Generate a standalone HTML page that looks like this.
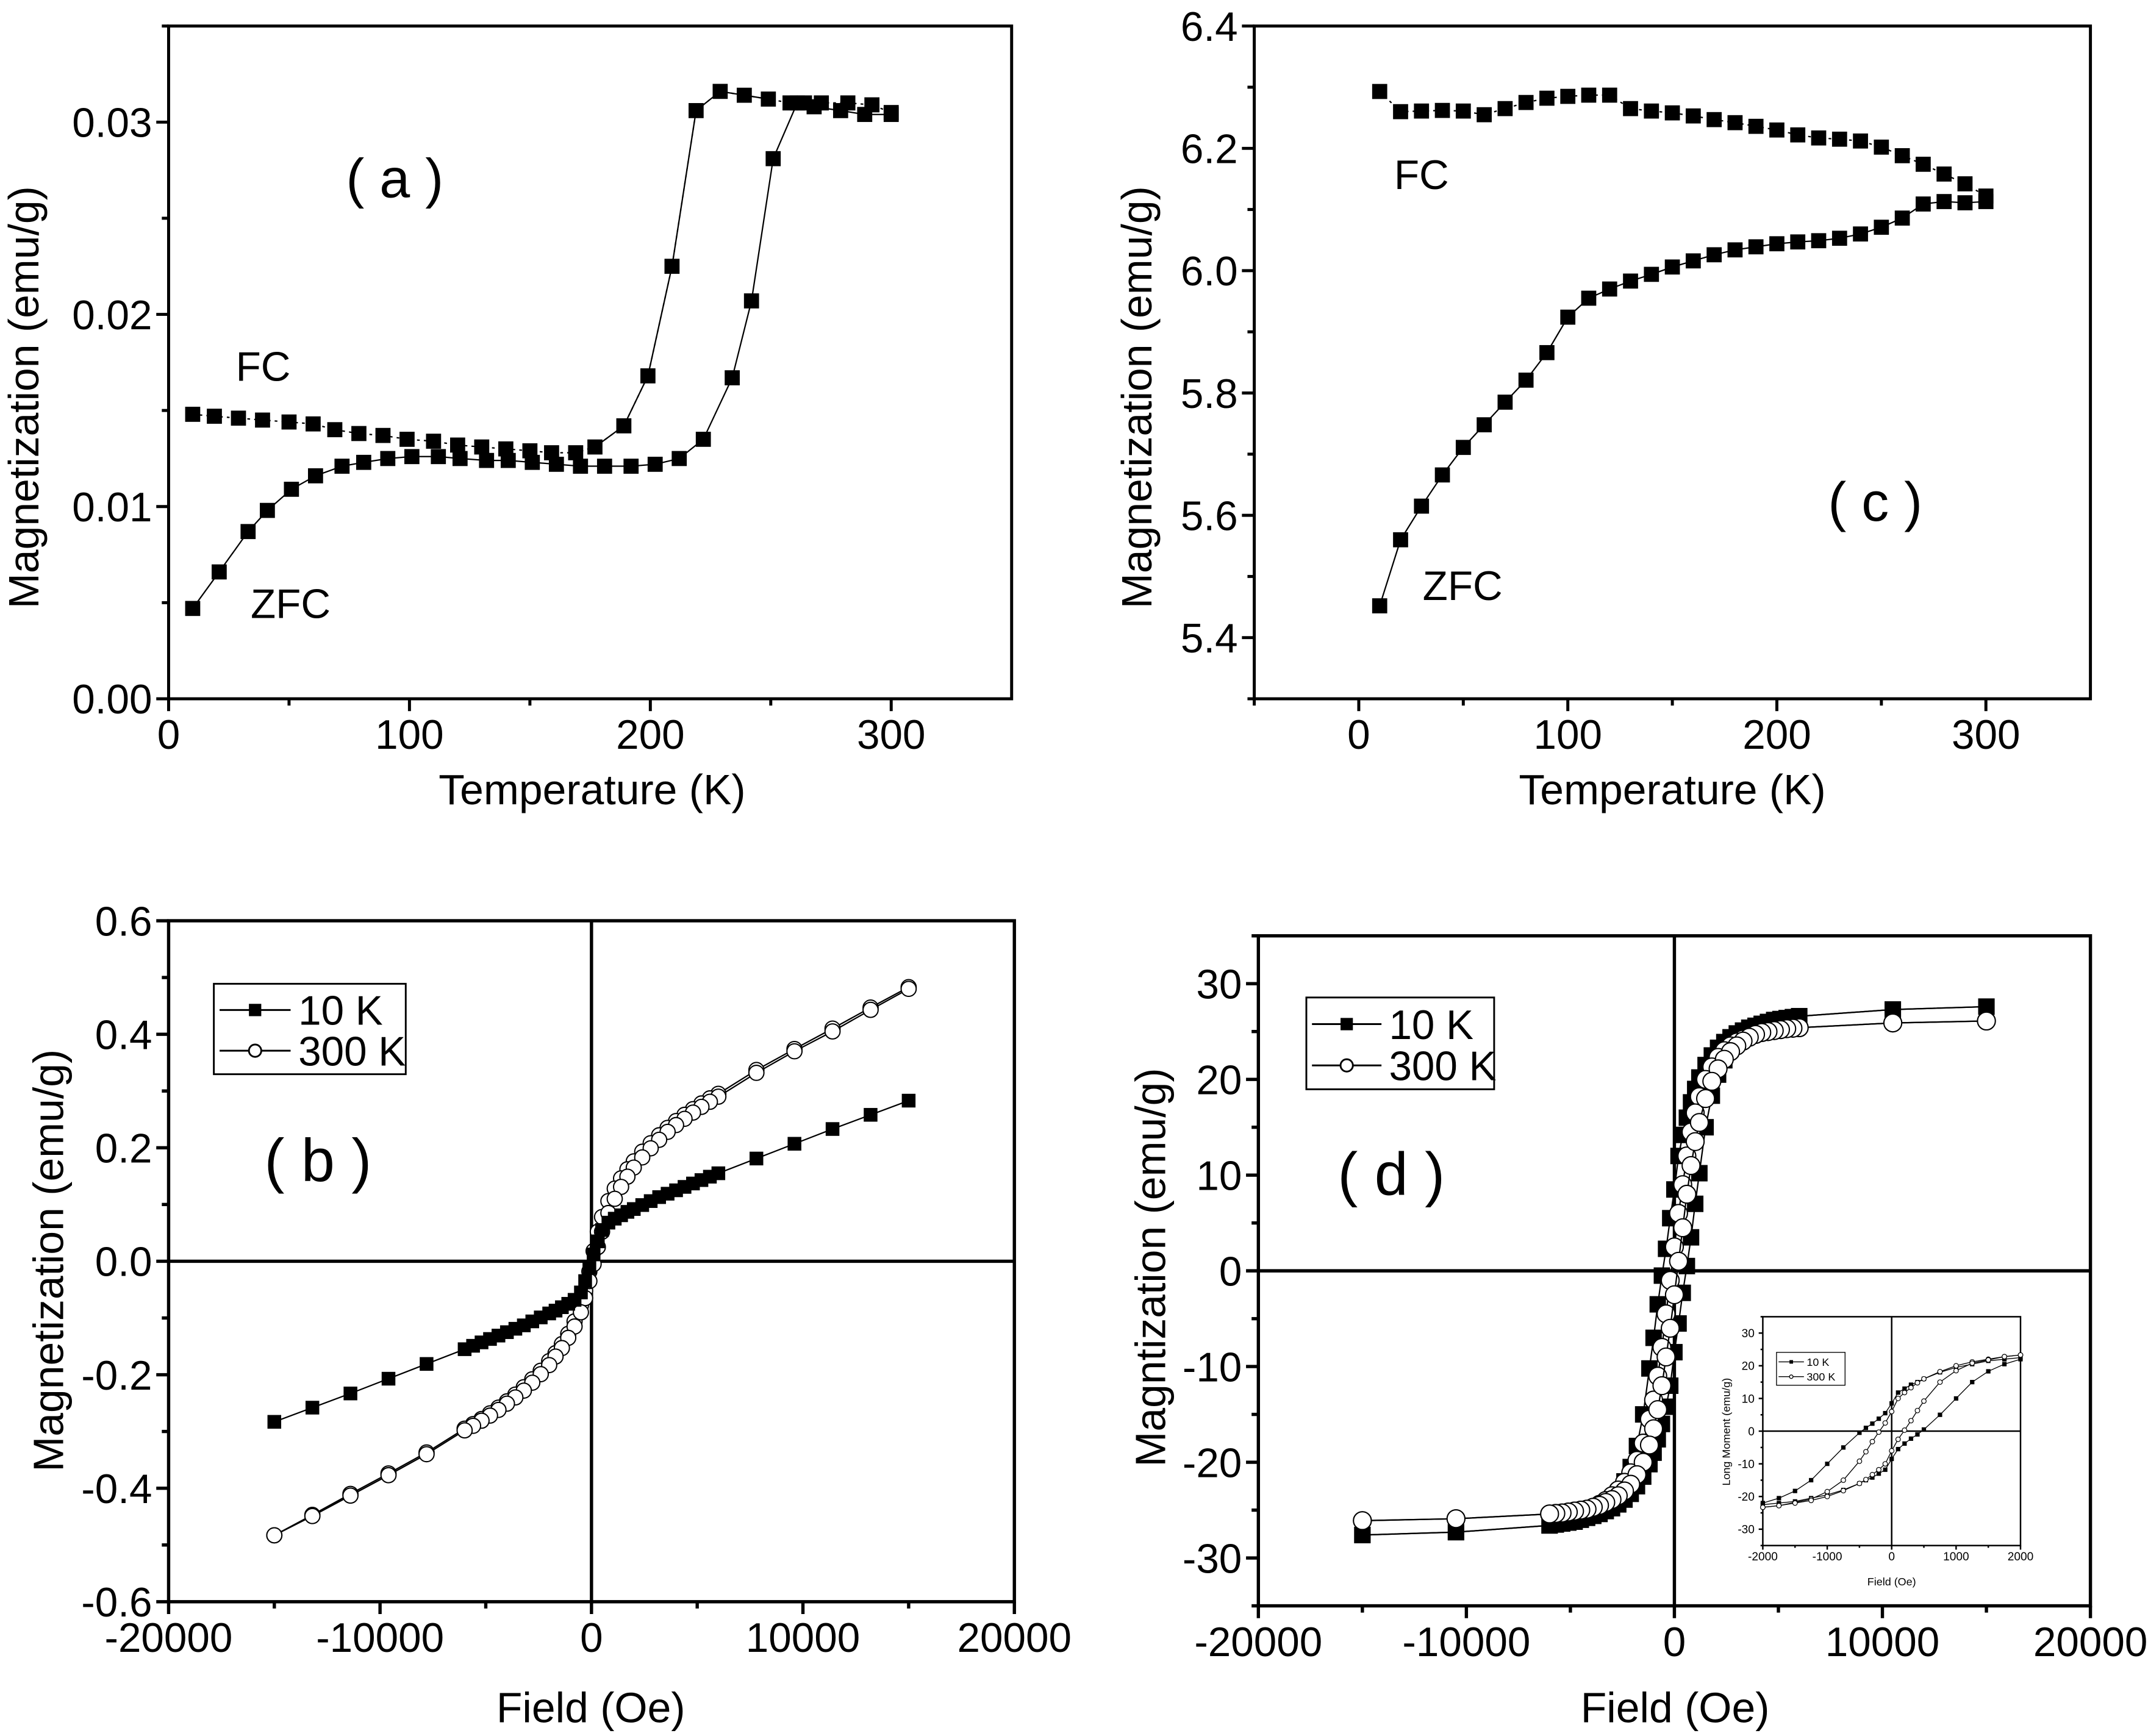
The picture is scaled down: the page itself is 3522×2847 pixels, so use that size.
<!DOCTYPE html>
<html><head><meta charset="utf-8">
<style>
html,body{margin:0;padding:0;background:#fff;}
svg{display:block;}
text{font-family:"Liberation Sans",Arial,sans-serif;fill:#000;}
</style></head>
<body>
<svg id="fig" width="3522" height="2847" viewBox="0 0 1567 1267" preserveAspectRatio="none" xmlns="http://www.w3.org/2000/svg">
<rect x="0" y="0" width="1567" height="1267" fill="#fff"/>
</svg>
<script>
// ---------- Panel (a) data ----------
const aFcT = [10,19,29,39,50,60,69,79,89,99,110,120,130,140,150,159,169,177,189,199,209,219,229,239,249,258,264,271,282,292,300];
const aFcM = [0.0148,0.0147,0.0146,0.0145,0.0144,0.0143,0.0140,0.0138,0.0137,0.0135,0.0134,0.0132,0.0131,0.0130,0.0129,0.0128,0.0128,0.0131,0.0142,0.0168,0.0225,0.0306,0.0316,0.0314,0.0312,0.0310,0.0310,0.0310,0.0310,0.0309,0.0305];
const aZfcT = [10,21,33,41,51,61,72,81,91,101,112,121,132,141,151,161,171,181,192,202,212,222,234,242,251,261,268,279,289,300];
const aZfcM = [0.0047,0.0066,0.0087,0.0098,0.0109,0.0116,0.0121,0.0123,0.0125,0.0126,0.0126,0.0125,0.0124,0.0124,0.0123,0.0122,0.0121,0.0121,0.0121,0.0122,0.0125,0.0135,0.0167,0.0207,0.0281,0.0310,0.0308,0.0306,0.0304,0.0304];
const aXTicks = [0,100,200,300];
const aYTicks = [0.00,0.01,0.02,0.03];
const aYLabels = ["0.00","0.01","0.02","0.03"];
// ---------- Panel (c) data ----------
const cT = [10,20,30,40,50,60,70,80,90,100,110,120,130,140,150,160,170,180,190,200,210,220,230,240,250,260,270,280,290,300];
const cFcM = [6.293,6.260,6.261,6.262,6.261,6.255,6.265,6.275,6.282,6.285,6.287,6.287,6.265,6.261,6.258,6.253,6.247,6.242,6.236,6.230,6.222,6.217,6.215,6.212,6.202,6.188,6.174,6.158,6.142,6.122];
const cZfcM = [5.452,5.560,5.615,5.666,5.711,5.748,5.785,5.821,5.866,5.924,5.955,5.970,5.983,5.994,6.006,6.016,6.026,6.034,6.039,6.044,6.047,6.049,6.053,6.060,6.071,6.086,6.109,6.113,6.111,6.113];
const cXTicks = [0,100,200,300];
const cYTicks = [5.4,5.6,5.8,6.0,6.2,6.4];
const cYLabels = ["5.4","5.6","5.8","6.0","6.2","6.4"];
// ---------- Panel (b) data ----------
const bH = [15000,13200,11400,9600,7800,6000,5600,5200,4800,4400,4000,3600,3200,2800,2400,2000,1700,1400,1100,800,500,300,100,-100,-300,-500,-800,-1100,-1400,-1700,-2000,-2400,-2800,-3200,-3600,-4000,-4400,-4800,-5200,-5600,-6000,-7800,-9600,-11400,-13200,-15000];
const b10M = [0.283,0.258,0.233,0.207,0.181,0.155,0.149,0.143,0.137,0.131,0.125,0.119,0.113,0.106,0.099,0.092,0.087,0.081,0.075,0.068,0.055,0.035,0.012,-0.012,-0.035,-0.055,-0.068,-0.075,-0.081,-0.087,-0.092,-0.099,-0.106,-0.113,-0.119,-0.125,-0.131,-0.137,-0.143,-0.149,-0.155,-0.181,-0.207,-0.233,-0.258,-0.283];
const b300Down = [0.483,0.447,0.410,0.374,0.337,0.295,0.287,0.278,0.268,0.258,0.247,0.235,0.222,0.208,0.193,0.176,0.162,0.146,0.128,0.106,0.078,0.052,0.018,-0.018,-0.052,-0.078,-0.106,-0.128,-0.146,-0.162,-0.176,-0.193,-0.208,-0.222,-0.235,-0.247,-0.258,-0.268,-0.278,-0.287,-0.295,-0.337,-0.374,-0.410,-0.447,-0.483];
const b300Up = [0.480,0.443,0.405,0.370,0.332,0.290,0.281,0.272,0.262,0.251,0.240,0.228,0.214,0.199,0.183,0.165,0.149,0.131,0.110,0.085,0.052,0.025,-0.005,-0.035,-0.065,-0.090,-0.115,-0.135,-0.153,-0.168,-0.183,-0.199,-0.214,-0.228,-0.240,-0.251,-0.262,-0.272,-0.281,-0.290,-0.298,-0.340,-0.377,-0.413,-0.449,-0.483];
const bXTicks = [-20000,-10000,0,10000,20000];
const bYTicks = [-0.6,-0.4,-0.2,0,0.2,0.4,0.6];
const bYLabels = ["-0.6","-0.4","-0.2","0.0","0.2","0.4","0.6"];
// ---------- Panel (d) data ----------
const dH = [15000,10500,6000,5700,5400,5100,4800,4500,4200,3900,3600,3300,3000,2700,2400,2100,1800,1500,1200,1000,800,600,400,200,0,-200,-400,-600,-800,-1000,-1200,-1500,-1800,-2100,-2400,-2700,-3000,-3300,-3600,-3900,-4200,-4500,-4800,-5100,-5400,-5700,-6000,-10500,-15000];
const d10Down = [27.6,27.3,26.6,26.5,26.4,26.3,26.2,26.0,25.8,25.6,25.4,25.1,24.8,24.4,23.9,23.3,22.5,21.5,20.2,19.0,17.6,16.0,14.2,12.0,8.5,5.5,2.3,-0.5,-3.5,-7,-10.2,-15,-18.3,-20.5,-22.0,-23.2,-24.0,-24.6,-25.1,-25.5,-25.8,-26.0,-26.2,-26.3,-26.4,-26.5,-26.6,-27.3,-27.6];
const d10Up = [27.6,27.3,26.6,26.5,26.4,26.3,26.2,26.0,25.8,25.5,25.1,24.6,24.0,23.2,22.0,20.5,18.3,15,10.2,7,3.5,0.5,-2.3,-5.5,-8.5,-12.0,-14.2,-16.0,-17.6,-19.0,-20.2,-21.5,-22.5,-23.3,-23.9,-24.4,-24.8,-25.1,-25.4,-25.6,-25.8,-26.0,-26.2,-26.3,-26.4,-26.5,-26.6,-27.3,-27.6];
const d300Down = [26.1,25.9,25.4,25.35,25.3,25.2,25.1,25.0,24.9,24.7,24.5,24.2,23.9,23.5,23.0,22.3,21.3,20.0,18.2,16.5,14.5,12.0,9.0,6.0,2.5,-1.0,-4.5,-8,-11,-13.5,-15.5,-18.0,-19.8,-21.1,-22.1,-22.9,-23.5,-24.0,-24.4,-24.7,-24.9,-25.0,-25.1,-25.2,-25.3,-25.35,-25.4,-25.9,-26.1];
const d300Up = [26.1,25.9,25.4,25.35,25.3,25.2,25.1,25.0,24.9,24.7,24.4,24.0,23.5,22.9,22.1,21.1,19.8,18.0,15.5,13.5,11,8,4.5,1.0,-2.5,-6.0,-9.0,-12.0,-14.5,-16.5,-18.2,-20.0,-21.3,-22.3,-23.0,-23.5,-23.9,-24.2,-24.5,-24.7,-24.9,-25.0,-25.1,-25.2,-25.3,-25.35,-25.4,-25.9,-26.1];
const dXTicks = [-20000,-10000,0,10000,20000];
const dYTicks = [-30,-20,-10,0,10,20,30];
// ---------- Inset data ----------
const iH = [2000,1750,1500,1250,1000,750,500,400,300,200,100,0,-100,-200,-300,-400,-500,-750,-1000,-1250,-1500,-1750,-2000];
const i10Down = [22.5,22,21.5,20.5,19.5,18,16,15,14.2,13,11.8,8.5,5.5,3.8,2.3,1,-0.5,-5,-10,-15,-18.3,-20.5,-22];
const i10Up = [22,20.5,18.3,15,10,5,0.5,-1,-2.3,-3.8,-5.5,-8.5,-11.8,-13,-14.2,-15,-16,-18,-19.5,-20.5,-21.5,-22,-22.5];
const i300Down = [23.3,22.8,22,21.2,20,18.2,16,14.8,13.3,11.8,10,6,2.5,-0.3,-3.2,-6.3,-9.2,-15,-18.5,-20.8,-21.8,-22.8,-23.3];
const i300Up = [23.3,22.8,21.8,20.8,18.5,15,9.2,6.3,3.2,0.3,-2.5,-6,-10,-11.8,-13.3,-14.8,-16,-18.2,-20,-21.2,-22,-22.8,-23.3];
const iXTicks = [-2000,-1000,0,1000,2000];
const iYTicks = [-30,-20,-10,0,10,20,30];

const NS = "http://www.w3.org/2000/svg";
const svg = document.getElementById('fig');
function el(tag, attrs, parent, name, inter){
  const e = document.createElementNS(NS, tag);
  for (const k in attrs) e.setAttribute(k, attrs[k]);
  
  
  (parent || svg).appendChild(e);
  return e;
}
function txt(x,y,s,size,anchor,parent,name,rot){
  const t = el('text',{x:x,y:y,'font-size':size,'text-anchor':anchor||'middle'},parent,name,false);
  if (rot) t.setAttribute('transform','rotate(-90 '+x+' '+y+')');
  t.textContent = s;
  return t;
}
function makeAxes(o){
  const g = el('g',{},svg,o.name,false);
  const sx = v => o.L + (v - o.x0)/(o.x1 - o.x0)*(o.R - o.L);
  const sy = v => o.B - (v - o.y0)/(o.y1 - o.y0)*(o.B - o.T);
  el('rect',{x:o.L,y:o.T,width:o.R-o.L,height:o.B-o.T,fill:'none',stroke:'#000','stroke-width':o.sw},g,o.name+'-frame',false);
  const tl = o.tl, fs = o.fs;
  o.xt.forEach((v,i)=>{
    const x = sx(v);
    el('line',{x1:x,y1:o.B,x2:x,y2:o.B+tl,stroke:'#000','stroke-width':o.sw},g,'x-tick',false);
    txt(x,o.B+tl+fs*0.92,(o.xl?o.xl[i]:String(v)),fs,'middle',g,'x-tick-label');
    if (i < o.xt.length-1){
      const xm = sx((v + o.xt[i+1])/2);
      el('line',{x1:xm,y1:o.B,x2:xm,y2:o.B+tl*0.55,stroke:'#000','stroke-width':o.sw},g,'x-minor-tick',false);
    }
  });
  if (o.xminorExtra) o.xminorExtra.forEach(v=>{const xm=sx(v);
    el('line',{x1:xm,y1:o.B,x2:xm,y2:o.B+tl*0.55,stroke:'#000','stroke-width':o.sw},g,'x-minor-tick',false);});
  o.yt.forEach((v,i)=>{
    const y = sy(v);
    el('line',{x1:o.L-tl,y1:y,x2:o.L,y2:y,stroke:'#000','stroke-width':o.sw},g,'y-tick',false);
    txt(o.L-tl-3,y+fs*0.36,(o.yl?o.yl[i]:String(v)),fs,'end',g,'y-tick-label');
    if (i < o.yt.length-1){
      const ym = sy((v + o.yt[i+1])/2);
      el('line',{x1:o.L-tl*0.55,y1:ym,x2:o.L,y2:ym,stroke:'#000','stroke-width':o.sw},g,'y-minor-tick',false);
    }
  });
  if (o.yminorExtra) o.yminorExtra.forEach(v=>{const ym=sy(v);
    el('line',{x1:o.L-tl*0.55,y1:ym,x2:o.L,y2:ym,stroke:'#000','stroke-width':o.sw},g,'y-minor-tick',false);});
  if (o.zero){
    el('line',{x1:sx(0),y1:o.T,x2:sx(0),y2:o.B,stroke:'#000','stroke-width':o.sw},g,'zero-vline',false);
    el('line',{x1:o.L,y1:sy(0),x2:o.R,y2:sy(0),stroke:'#000','stroke-width':o.sw},g,'zero-hline',false);
  }
  if (o.xtitle) txt(o.xtx,o.xty,o.xtitle,o.tfs,'middle',g,'x-axis-title');
  if (o.ytitle) txt(o.ytx,o.yty,o.ytitle,o.tfs,'middle',g,'y-axis-title',true);
  return {g,sx,sy};
}
function series(ax, xs, ys, shape, size, lw, name, dash, solidFrom, solidTo){
  const g = el('g',{},ax.g,name,false);
  const pts = xs.map((x,i)=>ax.sx(x).toFixed(2)+','+ax.sy(ys[i]).toFixed(2));
  const pl = el('polyline',{points:pts.join(' '),fill:'none',stroke:'#000','stroke-width':lw},g,name+'-line',false);
  if (dash) pl.setAttribute('stroke-dasharray',dash);
  if (solidFrom !== undefined){
    el('polyline',{points:pts.slice(solidFrom,solidTo+1).join(' '),fill:'none',stroke:'#000','stroke-width':lw},g,name+'-solid-line',false);
  }
  xs.forEach((x,i)=>{
    const cx = ax.sx(x), cy = ax.sy(ys[i]);
    if (shape==='sq'){
      el('rect',{x:cx-size/2,y:cy-size/2,width:size,height:size,fill:'#000'},g,'point',false);
    } else {
      el('circle',{cx:cx,cy:cy,r:size/2,fill:'#fff',stroke:'#000','stroke-width':lw*0.9},g,'point',false);
    }
  });
}
function legend(g,x,y,w,h,fs,ms,lw,name){
  const lg = el('g',{},g,name,false);
  el('rect',{x:x,y:y,width:w,height:h,fill:'#fff',stroke:'#000','stroke-width':lw},lg,'legend-box',false);
  const l1 = y+h*0.29, l2 = y+h*0.74, a = x+w*0.03, b = x+w*0.40, c = (a+b)/2;
  el('line',{x1:a,y1:l1,x2:b,y2:l1,stroke:'#000','stroke-width':lw},lg,'legend-line-10k',false);
  el('rect',{x:c-ms/2,y:l1-ms/2,width:ms,height:ms,fill:'#000'},lg,'legend-marker-10k',false);
  txt(b+w*0.04,l1+fs*0.36,'10 K',fs,'start',lg,'legend-label-10k');
  el('line',{x1:a,y1:l2,x2:b,y2:l2,stroke:'#000','stroke-width':lw},lg,'legend-line-300k',false);
  el('circle',{cx:c,cy:l2,r:ms/2,fill:'#fff',stroke:'#000','stroke-width':lw},lg,'legend-marker-300k',false);
  txt(b+w*0.04,l2+fs*0.36,'300 K',fs,'start',lg,'legend-label-300k');
}

const TF = 30, TT = 31;
// Panel a
const axA = makeAxes({name:'panel-a',L:123,R:738,T:19,B:510,x0:0,x1:350,y0:0,y1:0.035,xt:aXTicks,yt:aYTicks,yl:aYLabels,
  yminorExtra:[0.035],sw:2.2,tl:9,fs:TF,tfs:TT,xtitle:'Temperature (K)',xtx:432,xty:587,ytitle:'Magnetization (emu/g)',ytx:28,yty:290});
series(axA,aFcT,aFcM,'sq',11,1,'fc-series','2,3',17,24);
series(axA,aZfcT,aZfcM,'sq',11,1,'zfc-series');
txt(288,144,'( a )',40,'middle',axA.g,'panel-label-a');
txt(192,278,'FC',30,'middle',axA.g,'fc-label');
txt(212,451,'ZFC',30,'middle',axA.g,'zfc-label');

// Panel c
const axC = makeAxes({name:'panel-c',L:915,R:1525,T:19,B:510,x0:-50,x1:350,y0:5.3,y1:6.4,xt:cXTicks,yt:cYTicks,yl:cYLabels,
  xminorExtra:[-50],yminorExtra:[5.3],sw:2.2,tl:9,fs:TF,tfs:TT,xtitle:'Temperature (K)',xtx:1220,xty:587,ytitle:'Magnetization (emu/g)',ytx:840,yty:290});
series(axC,cT,cFcM,'sq',11,1,'fc-series','2,3');
series(axC,cT,cZfcM,'sq',11,1,'zfc-series');
txt(1368,380,'( c )',40,'middle',axC.g,'panel-label-c');
txt(1037,138,'FC',30,'middle',axC.g,'fc-label');
txt(1067,438,'ZFC',30,'middle',axC.g,'zfc-label');

// Panel b
const axB = makeAxes({name:'panel-b',L:123,R:740,T:672,B:1169,x0:-20000,x1:20000,y0:-0.6,y1:0.6,xt:bXTicks,yt:bYTicks,yl:bYLabels,
  zero:true,sw:2.4,tl:9,fs:TF,tfs:TT,xtitle:'Field (Oe)',xtx:431,xty:1257,ytitle:'Magnetization (emu/g)',ytx:46,yty:920});
series(axB,bH,b300Down,'circ',11,1,'300k-down-series');
series(axB,bH,b300Up,'circ',11,1,'300k-up-series');
series(axB,bH,b10M,'sq',10,1,'10k-series');
legend(axB.g,156,718,140,66,30,9,1.3,'legend-b');
txt(232,862,'( b )',44,'middle',axB.g,'panel-label-b');

// Panel d
const axD = makeAxes({name:'panel-d',L:918,R:1525,T:683,B:1172,x0:-20000,x1:20000,y0:-35,y1:35,xt:dXTicks,yt:dYTicks,
  yminorExtra:[-35,35],zero:true,sw:2.4,tl:9,fs:TF,tfs:TT,xtitle:'Field (Oe)',xtx:1222,xty:1257,ytitle:'Magntization (emu/g)',ytx:850,yty:925});
series(axD,dH,d10Down,'sq',12,1,'10k-down-series');
series(axD,dH,d10Up,'sq',12,1,'10k-up-series');
series(axD,dH,d300Down,'circ',13,1,'300k-down-series');
series(axD,dH,d300Up,'circ',13,1,'300k-up-series');
legend(axD.g,953,728,137,67,30,9,1.3,'legend-d');
txt(1015,872,'( d )',44,'middle',axD.g,'panel-label-d');

// Inset
el('rect',{x:1255,y:955,width:226,height:215,fill:'#fff'},svg,'inset-background',false);
const axI = makeAxes({name:'inset',L:1286,R:1474,T:961,B:1128,x0:-2000,x1:2000,y0:-35,y1:35,xt:iXTicks,yt:iYTicks,
  yminorExtra:[-35,35],zero:true,sw:1.1,tl:3,fs:8.5,tfs:8,xtitle:'Field (Oe)',xtx:1380,xty:1157,ytitle:'Long Moment (emu/g)',ytx:1262,yty:1045});
series(axI,iH,i10Down,'sq',3.2,0.6,'inset-10k-down');
series(axI,iH,i10Up,'sq',3.2,0.6,'inset-10k-up');
series(axI,iH,i300Down,'circ',3.4,0.6,'inset-300k-down');
series(axI,iH,i300Up,'circ',3.4,0.6,'inset-300k-up');
legend(axI.g,1296,987,50,24,8,2.6,0.6,'inset-legend');
</script>
</body></html>
